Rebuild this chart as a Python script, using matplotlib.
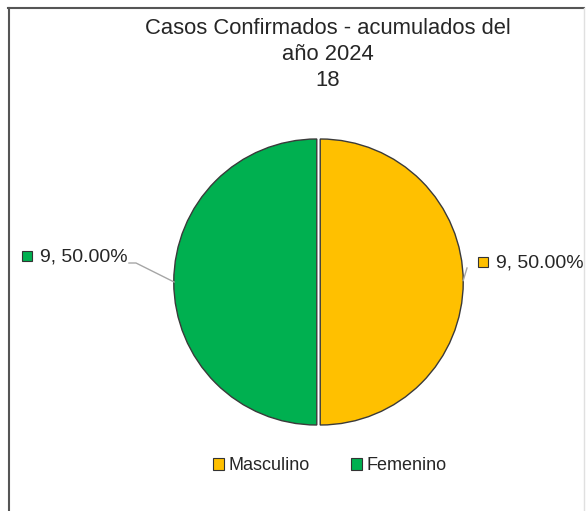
import matplotlib
matplotlib.use("Agg")
import matplotlib.pyplot as plt
from matplotlib.lines import Line2D
from matplotlib.patches import Patch
import numpy as np

plt.rcParams['font.family'] = ['Liberation Sans', 'DejaVu Sans']

categories = ["Masculino", "Femenino"]
values = [9, 9]
colors = ["#FFC000", "#00B050"]
title_lines = ["Casos Confirmados - acumulados del", "año 2024", "18"]

W, H = 587, 511
fig = plt.figure(figsize=(W / 100, H / 100), dpi=100)
fig.patch.set_facecolor("white")

# pie geometry in pixels
cx, cy, R = 318.5, 282.0, 143.0
ax = fig.add_axes([0, 0, 1, 1])
wedges, _ = ax.pie(values, colors=colors, startangle=90, counterclock=False,
                   explode=[0.012, 0.012], radius=1.0,
                   wedgeprops=dict(edgecolor="#3a3a3a", linewidth=1.0))
ax.set_xlim(-cx / R, (W - cx) / R)
ax.set_ylim(-(H - cy) / R, cy / R)
ax.set_aspect("auto")
ax.axis("off")

total = sum(values)
# data labels
label_pos = {0: (496, 263), 1: (40, 257)}  # text left edge (px), y from top (px)
for i, (w, v) in enumerate(zip(wedges, values)):
    ang = np.deg2rad((w.theta1 + w.theta2) / 2)
    ex, ey = np.cos(ang), np.sin(ang)
    tx, ty = label_pos[i]
    dx, dy = (tx - cx) / R, (cy - ty) / R
    txt = f"{v}, {v / total * 100:.2f}%"
    ax.text(dx, dy, txt, ha="left", va="center", fontsize=14, color="#262626")
    ax.plot([dx - 13 / R], [dy + 1 / R], marker="s", markersize=7,
            color=colors[i], markeredgecolor="#333333", markeredgewidth=0.8)
    if i == 1:
        xs = [(129 - cx) / R, (136 - cx) / R, ex * 1.0 - 0.01]
        ys = [(cy - 263) / R, (cy - 263) / R, ey]
    else:
        xs = [ex * 1.0 + 0.012, (467 - cx) / R]
        ys = [ey + 0.01, (cy - 268) / R]
    ax.plot(xs, ys, color="#a6a6a6", lw=1.0)

# title
for k, line in enumerate(title_lines):
    fig.text(327.5 / W, 1 - (28 + 26 * k) / H, line, ha="center", va="center",
             fontsize=15.8, color="#262626")

# legend
handles = [Patch(facecolor=c, edgecolor="#333333", linewidth=0.8) for c in colors]
fig.legend(handles, categories, loc="center", bbox_to_anchor=(330 / W, 1 - 466 / H),
           ncol=2, frameon=False, fontsize=13, handlelength=0.6, handleheight=0.6,
           handletextpad=0.25, columnspacing=2.3, labelcolor="#262626")

# chart border
fig.add_artist(Line2D([8 / W, 584 / W], [1 - 8 / H, 1 - 8 / H], transform=fig.transFigure,
                      color="#555555", lw=1.5))
fig.add_artist(Line2D([8.5 / W, 8.5 / W], [0, 1 - 8 / H], transform=fig.transFigure,
                      color="#555555", lw=1.5))
fig.add_artist(Line2D([584 / W, 584 / W], [0, 1 - 8 / H], transform=fig.transFigure,
                      color="#e0e0e0", lw=1.0))

fig.savefig("out.png", dpi=100, facecolor="white")
